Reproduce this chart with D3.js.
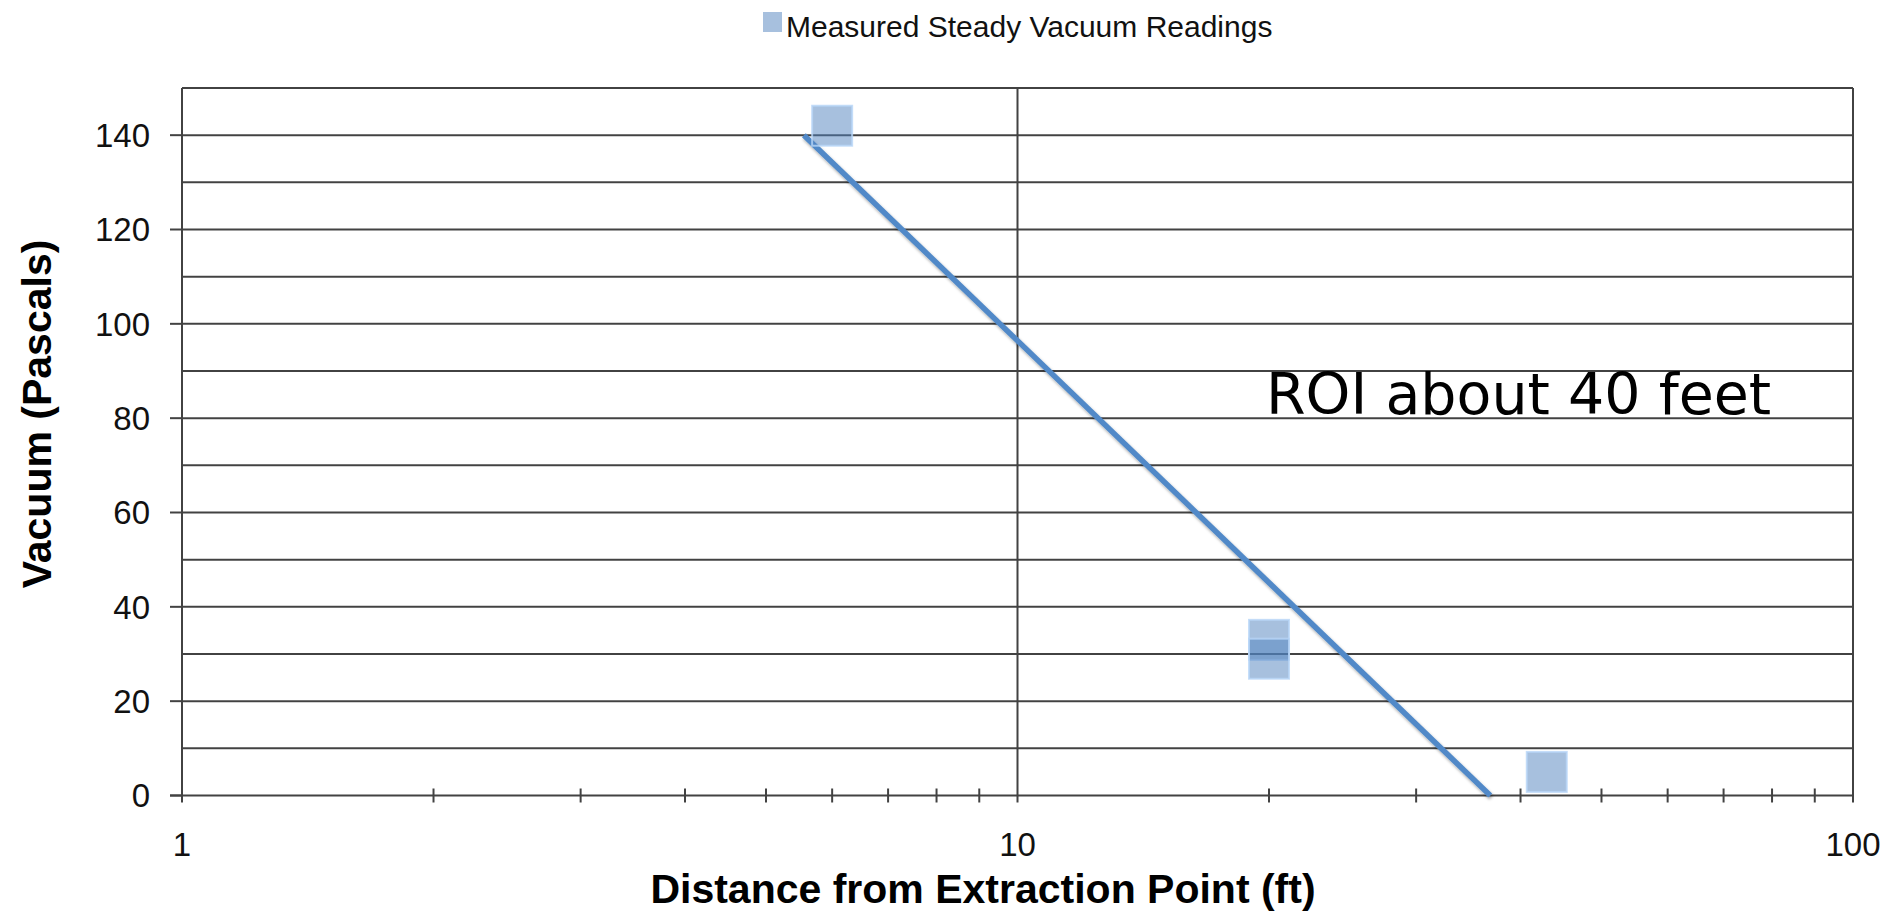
<!DOCTYPE html>
<html>
<head>
<meta charset="utf-8">
<script src="https://cdn.jsdelivr.net/npm/d3@7"></script>
<style>
  html, body { margin: 0; padding: 0; background: #fff; }
  svg { display: block; }
</style>
</head>
<body>
<svg id="chart" width="1891" height="912"></svg>
<script>
// Steady vacuum readings versus distance from the extraction point
const distances = [6, 20, 20, 43];          // ft
const vacuum = [142, 33, 29, 5];            // Pa
// Logarithmic trend line end points
const trendDistance = [5.55, 36.8];
const trendVacuum = [140, 0];

const yMajorTicks = [0, 20, 40, 60, 80, 100, 120, 140];
const yGridValues = [10, 20, 30, 40, 50, 60, 70, 80, 90, 100, 110, 120, 130, 140];
const xLabelTicks = [1, 10, 100];
const xMinorTicks = [2, 3, 4, 5, 6, 7, 8, 9, 20, 30, 40, 50, 60, 70, 80, 90];

const seriesName = "Measured Steady Vacuum Readings";
const xTitle = "Distance from Extraction Point (ft)";
const yTitle = "Vacuum (Pascals)";
const note = "ROI about 40 feet";

const svg = d3.select("#chart");
const plotLeft = 182, plotRight = 1853, plotTop = 88, plotBottom = 795.5;

const x = d3.scaleLog().domain([1, 100]).range([plotLeft, plotRight]);
const y = d3.scaleLinear().domain([0, 150]).range([plotBottom, plotTop]);

const gridColor = "#434343";

// soft shadow used by the trend line
const defs = svg.append("defs");
const f = defs.append("filter").attr("id", "shadow").attr("x", "-10%").attr("y", "-10%").attr("width", "120%").attr("height", "120%");
f.append("feDropShadow").attr("dx", 1).attr("dy", 2).attr("stdDeviation", 1.5).attr("flood-color", "#000").attr("flood-opacity", 0.35);
const soft = defs.append("filter").attr("id", "soft");
soft.append("feGaussianBlur").attr("stdDeviation", 0.45);

const grid = svg.append("g").attr("filter", "url(#soft)");

// horizontal gridlines every 10 Pa
grid.selectAll("line.h").data(yGridValues).join("line")
  .attr("x1", plotLeft).attr("x2", plotRight)
  .attr("y1", d => y(d)).attr("y2", d => y(d))
  .attr("stroke", gridColor).attr("stroke-width", 2);

// top border
grid.append("line").attr("x1", plotLeft).attr("x2", plotRight).attr("y1", y(150)).attr("y2", y(150))
  .attr("stroke", gridColor).attr("stroke-width", 2);

// vertical lines at decades (1 is the y axis, 100 the right border)
grid.selectAll("line.v").data(xLabelTicks).join("line")
  .attr("x1", d => x(d)).attr("x2", d => x(d))
  .attr("y1", y(150)).attr("y2", plotBottom + 7)
  .attr("stroke", gridColor).attr("stroke-width", 2);

// x axis line
grid.append("line").attr("x1", plotLeft - 12).attr("x2", plotRight).attr("y1", y(0)).attr("y2", y(0))
  .attr("stroke", gridColor).attr("stroke-width", 2.2);

// minor x ticks crossing the axis
grid.selectAll("line.mx").data(xMinorTicks).join("line")
  .attr("x1", d => x(d)).attr("x2", d => x(d))
  .attr("y1", plotBottom - 7).attr("y2", plotBottom + 7)
  .attr("stroke", gridColor).attr("stroke-width", 2);

// major y ticks outside the axis
grid.selectAll("line.my").data(yMajorTicks).join("line")
  .attr("x1", plotLeft - 12).attr("x2", plotLeft)
  .attr("y1", d => y(d)).attr("y2", d => y(d))
  .attr("stroke", gridColor).attr("stroke-width", 2);

// y tick labels
svg.selectAll("text.yl").data(yMajorTicks).join("text")
  .attr("x", plotLeft - 32).attr("y", d => y(d))
  .attr("dy", "0.36em").attr("text-anchor", "end")
  .attr("font-family", "Liberation Sans, Arial, sans-serif").attr("font-size", 33)
  .attr("fill", "#111").text(d => d);

// x tick labels
svg.selectAll("text.xl").data(xLabelTicks).join("text")
  .attr("x", d => x(d)).attr("y", 856)
  .attr("text-anchor", "middle")
  .attr("font-family", "Liberation Sans, Arial, sans-serif").attr("font-size", 33)
  .attr("fill", "#111").text(d => d);

// axis titles
svg.append("text")
  .attr("x", 983).attr("y", 903).attr("text-anchor", "middle")
  .attr("font-family", "Liberation Sans, Arial, sans-serif").attr("font-weight", "bold")
  .attr("font-size", 41).attr("fill", "#000").text(xTitle);

svg.append("text")
  .attr("transform", "translate(51,414) rotate(-90)").attr("text-anchor", "middle")
  .attr("font-family", "Liberation Sans, Arial, sans-serif").attr("font-weight", "bold")
  .attr("font-size", 41).attr("fill", "#000").text(yTitle);

// legend
const legend = svg.append("g");
legend.append("rect").attr("x", 763).attr("y", 12).attr("width", 19).attr("height", 20)
  .attr("fill", "#4f81bd").attr("fill-opacity", 0.5);
legend.append("text").attr("x", 786).attr("y", 37)
  .attr("font-family", "Liberation Sans, Arial, sans-serif").attr("font-size", 30)
  .attr("fill", "#111").text(seriesName);

// trend line
const line = d3.line().x(d => x(d[0])).y(d => y(d[1]));
svg.append("path")
  .datum(d3.zip(trendDistance, trendVacuum))
  .attr("d", line)
  .attr("fill", "none").attr("stroke", "#5189c8").attr("stroke-width", 5.5)
  .attr("filter", "url(#shadow)");

// measured points as translucent squares
const size = 40;
svg.selectAll("rect.pt").data(d3.zip(distances, vacuum)).join("rect")
  .attr("x", d => x(d[0]) - size / 2).attr("y", d => y(d[1]) - size / 2)
  .attr("width", size).attr("height", size)
  .attr("fill", "#4f81bd").attr("fill-opacity", 0.5)
  .attr("stroke", "#b8d6f7").attr("stroke-width", 2).attr("stroke-opacity", 0.8);

// annotation
svg.append("text")
  .attr("x", 1266).attr("y", 414)
  .attr("font-family", "DejaVu Sans, Verdana, sans-serif").attr("font-size", 57)
  .attr("fill", "#000").text(note);
</script>
</body>
</html>
